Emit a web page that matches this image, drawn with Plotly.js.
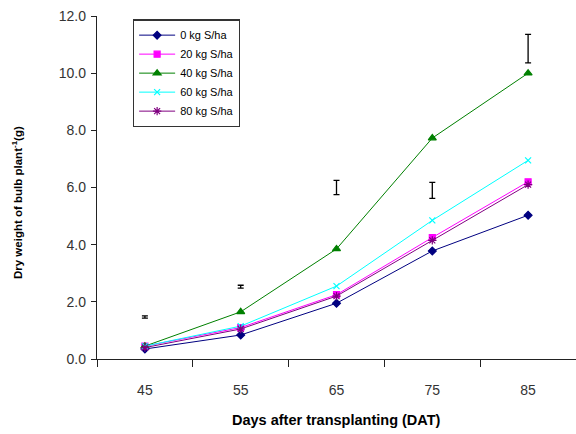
<!DOCTYPE html>
<html><head><meta charset="utf-8">
<script src="https://cdn.plot.ly/plotly-3.0.1.min.js"></script>
<style>html,body{margin:0;padding:0;background:#fff}#chart{width:576px;height:434px}</style>
</head><body><div id="chart"></div>
<script>
const days = ["45", "55", "65", "75", "85"];
const s0 = [0.35, 0.84, 1.95, 3.78, 5.03];
const s20 = [0.45, 1.10, 2.25, 4.25, 6.20];
const s40 = [0.45, 1.65, 3.85, 7.73, 10.00];
const s60 = [0.45, 1.15, 2.55, 4.85, 6.95];
const s80 = [0.40, 1.05, 2.20, 4.15, 6.10];
const lsdCenter = [1.47, 2.53, 6.00, 5.90, 10.86];
const lsdHalf = [0.04, 0.05, 0.25, 0.28, 0.50];
const names = ["0 kg S/ha", "20 kg S/ha", "40 kg S/ha", "60 kg S/ha", "80 kg S/ha"];

const series = [s0, s20, s40, s60, s80];
const colors = ["#000080", "#FF00FF", "#008000", "#00FFFF", "#800080"];
const symbols = ["diamond", "square", "triangle-up", "x-thin-open", "asterisk-open"];
const sizes = [6, 6, 7, 6, 7];

const traces = series.map((s, i) => ({
  x: days, y: s, name: names[i], type: "scatter", mode: "lines+markers",
  line: {color: colors[i], width: 1},
  marker: {symbol: symbols[i], size: sizes[i], color: colors[i], line: {color: colors[i], width: 1.2}}
}));
traces.push({
  x: days, y: lsdCenter, type: "scatter", mode: "markers", showlegend: false,
  marker: {size: 0.1, color: "rgba(0,0,0,0)"},
  error_y: {type: "data", array: lsdHalf, visible: true, color: "#000", thickness: 1.3, width: 3}
});

const titleFont = {family: "Liberation Sans, Arial, sans-serif", color: "#000", weight: "bold"};
const layout = {
  width: 576, height: 434,
  margin: {l: 97, r: 0, t: 16, b: 75},
  paper_bgcolor: "#fff", plot_bgcolor: "#fff",
  font: {family: "Liberation Sans, Arial, sans-serif", color: "#333"},
  xaxis: {
    type: "category", range: [-0.5, 4.5], tickson: "boundaries",
    ticks: "outside", ticklen: 7, tickcolor: "#222", tickwidth: 1,
    showline: true, linecolor: "#222", linewidth: 1.2, showgrid: false, zeroline: false,
    tickfont: {size: 14, color: "#333"}, ticklabelstandoff: 18
  },
  yaxis: {
    range: [0, 12], dtick: 2, tickformat: ".1f",
    ticks: "outside", ticklen: 5, tickcolor: "#222", tickwidth: 1,
    showline: true, linecolor: "#222", linewidth: 1.2, showgrid: false, zeroline: false,
    tickfont: {size: 14, color: "#333"}, ticklabelstandoff: 2
  },
  annotations: [
    {text: "Days after transplanting (DAT)", xref: "paper", yref: "paper",
     x: (336 - 97) / 479, y: -(420 - 359) / 343, xanchor: "center", yanchor: "middle",
     showarrow: false, font: Object.assign({size: 14.5}, titleFont)},
    {text: "Dry weight of bulb plant<sup>-1</sup>(g)", xref: "paper", yref: "paper",
     x: -(97 - 17) / 479, y: (359 - 203) / 343, xanchor: "center", yanchor: "middle",
     textangle: -90, showarrow: false, font: Object.assign({size: 11.5}, titleFont)}
  ],
  showlegend: true,
  legend: {
    x: 0.075, y: 0.99, xanchor: "left", yanchor: "top",
    bgcolor: "#fff", bordercolor: "#333", borderwidth: 1.2,
    font: {size: 11, color: "#000"}, tracegroupgap: 0, itemwidth: 36
  }
};
Plotly.newPlot("chart", traces, layout, {displayModeBar: false, staticPlot: true});
</script></body></html>
